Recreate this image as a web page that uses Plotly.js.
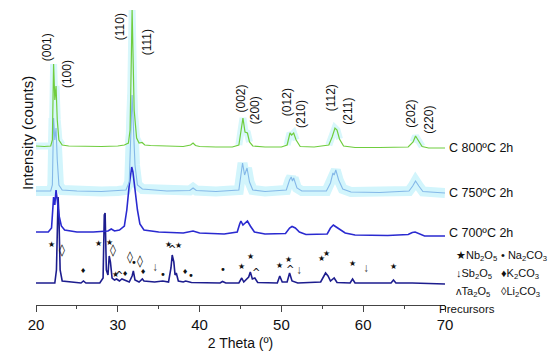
<!DOCTYPE html>
<html><head><meta charset="utf-8">
<script src="https://cdn.plot.ly/plotly-3.0.1.min.js"></script>
<style>html,body{margin:0;padding:0;background:#fff}#chart{width:550px;height:354px}</style>
</head><body><div id="chart"></div>
<script>
// ---- data (intensity above each pattern's own baseline, arbitrary units) ----
const sampleLabels = ["C 800\u00baC 2h", "C 750\u00baC 2h", "C 700\u00baC 2h", "Precursors"];

const x800 = [20,21,21.8,22.0,22.15,22.3,22.45,22.6,22.8,23.2,24,26,28,30,30.8,31.3,31.5,31.65,31.75,31.85,32.0,32.3,32.6,32.97,33.3,34,36,38,38.9,39.2,39.5,40,42,44,44.8,45.1,45.3,45.55,45.85,46.1,46.5,48,50,50.7,51.05,51.25,51.5,51.8,52.3,54,55.8,56.2,56.55,56.8,57.1,57.6,59,62,65.5,66.1,66.4,66.7,67.2,68,70];
const y800 = [2,1.5,2,8,84,48,62,28,8,3,2,1.5,1.5,2,3,5,18,88,138,98,38,10,5,5.5,3,2.5,2,1.5,3,5,2.5,1.5,1,1,3,18,30,16,15,6,2,1,1,3,15,13,15,8,1.5,1,3,11,20,18,9,2,0.5,0.5,1,6,12,8,1.5,0,0];

const x750 = [20,21.8,22.0,22.15,22.3,22.45,22.6,22.8,23.2,25,28,30,31.0,31.4,31.6,31.75,31.9,32.1,32.4,33,36,38.8,39.2,39.6,42,44.8,45.05,45.25,45.5,45.8,46.1,46.5,48,50.6,51.0,51.2,51.35,51.5,51.9,52.5,55.5,56.0,56.3,56.45,56.65,57,57.5,58.5,62,65.6,66.05,66.4,66.8,67.3,70];
const y750 = [2,2,8,75,53,65,33,8,3,2,1.5,2,3,11,63,98,68,28,8,4,2,2.5,5,2.5,1.5,3,18,30,18,25,11,3,1.5,3,13,16,12,15,5,2,2,10,20,18,23,13,4,1,0.5,2,7,12,7,1.5,0];

const x700 = [20,21.5,21.9,22.05,22.15,22.3,22.45,22.6,22.8,23.1,23.5,25,27,28.8,29.2,29.6,30.2,30.8,31.1,31.4,31.6,31.7,31.85,32.1,32.4,32.7,33.2,35,38,39.2,40,43,44.6,44.9,45.05,45.3,45.6,45.85,46.2,46.7,48,50.5,51.0,51.3,51.7,52.2,53,55.6,56.0,56.35,56.7,57.2,57.8,59,63,65.5,66.0,66.35,66.9,67.5,70];
const y700 = [4,4,8,36,39,31,46,36,21,10,6,4,4,5,7,5,6,10,26,51,66,69,64,46,26,12,6,4,3,5,3,2,4,12,15,11,13,15,10,4,2,2.5,8,9.5,8,4,1.5,2,8,11,9,6,3,1,0.5,1.5,3.5,4,2,0,0];

const xPre = [20,22.3,22.5,22.6,22.7,22.8,22.95,23.2,25.5,25.8,26.1,27.8,28.2,28.35,28.45,28.6,28.8,28.95,29.1,29.3,29.6,29.85,30.2,30.5,31.0,31.4,31.75,31.9,32.1,32.6,33.0,33.2,34.5,35.5,36.2,36.5,36.65,36.85,37.0,37.15,37.4,38.0,38.3,39,42.5,42.8,43.2,44.8,45.15,45.4,46.0,46.2,46.45,46.75,47.1,49.5,49.8,50.1,50.7,51.0,51.3,52,54.8,55.2,55.4,55.7,56.0,56.45,56.8,58.4,58.7,59.0,63.4,63.7,64.0,66,70];
const yPre = [1,1,14,74,87,69,14,3,1,3,1,1,6,69,71,14,9,28,22,6,4,5,3,5,3,2,8,13,4,2,5,3,2,3,2,16,29,22,9,11,3,2,3,1.5,1,2.5,1,1,6,2,7,12,5,6,1.5,1,8,2,2,11,3,1,2,8,11,8,3,6,1.5,1,5,1,1,4,1,1,0];

const millerLabels = ["(001)","(100)","(110)","(111)","(002)","(200)","(012)","(210)","(112)","(211)","(202)","(220)"];
const millerTheta  = [21.38,23.8,30.3,33.6,45.0,46.8,50.7,52.4,56.1,58.1,65.8,68.0];
const millerLevel  = [258,231,278,263,206,195,203,191,207,194,191,185];

const phaseSymbols = ["\u2605","\u25CA","\u2666","\u2605","\u2605","\u25CA","\u2605","^","\u2666","\u25CA","\u2022","\u25CA","\u2666","\u2193","\u2022","\u2605","^","\u2605","\u2666","\u2022","\u2022","\u2605","\u2605","^","\u2605","\u2605","^","\u2193","\u2605","\u2605","\u2605","\u2193","\u2605"];
const phaseTheta   = [21.95,23.2,25.75,27.66,29.0,29.4,29.7,30.2,30.9,31.45,32.0,32.77,33.1,34.55,35.5,36.15,36.65,37.45,38.2,38.9,42.85,45.15,46.2,46.85,49.8,50.9,51.1,52.1,54.9,55.5,58.75,60.3,63.65];
const phaseLevel   = [61,55,34,62,63,55,31,30,31,48,43,44,33,38,31,61,56,60,33,30,36,39,49,33,40,46,36,35,47,52,42,37,39];

const xTicks = [20,30,40,50,60,70];

// ---- styling / layout ----
const offsets = [157,112,69,21];
const colors = ["#6fcd3e","#84b8e8","#2a2ad0","#1d1d8e"];
const shift = (arr, o) => arr.map(v => v + o);
const FONT = "Liberation Sans, Arial, sans-serif";

const band750 = {x:x750, y:shift(y750,offsets[1]), mode:"lines", line:{color:"#d2f5fc", width:10}, hoverinfo:"skip"};
const bandRanges = [[20,23.4],[31.0,32.8],[44.8,46.3],[50.6,52.0],[55.8,57.4],[65.8,67.2]];
const band800 = {x:x800, y:y800.map((v,i)=>bandRanges.some(r=>x800[i]>=r[0]&&x800[i]<=r[1]) ? v+offsets[0] : null),
  mode:"lines", connectgaps:false, line:{color:"#d8f7fb", width:7}, hoverinfo:"skip"};

const traces = [
  band750, band800,
  {x:xPre, y:shift(yPre,offsets[3]), mode:"lines", line:{color:colors[3], width:1.6}, name:sampleLabels[3]},
  {x:x700, y:shift(y700,offsets[2]), mode:"lines", line:{color:colors[2], width:1.6}, name:sampleLabels[2]},
  {x:x750, y:shift(y750,offsets[1]), mode:"lines", line:{color:colors[1], width:1.1}, name:sampleLabels[1]},
  {x:x800, y:shift(y800,offsets[0]), mode:"lines", line:{color:colors[0], width:1.2}, name:sampleLabels[0]}
];

const ann = [];
[0,1,2].forEach(i => ann.push({xref:"paper", x:1, xanchor:"left", xshift:2, yref:"y", y:offsets[i]+ (i===2?3:0),
  text:sampleLabels[i], showarrow:false, font:{family:FONT, size:12.5, color:"#111"}}));
millerLabels.forEach((t,i) => ann.push({x:millerTheta[i], y:millerLevel[i], text:t, textangle:-90, showarrow:false,
  font:{family:FONT, size:12, color:"#111"}}));
const symSize = {"\u2605":8, "\u25CA":12, "\u2666":7, "\u2022":10, "^":10, "\u2193":12};
phaseSymbols.forEach((s,i) => ann.push({x:phaseTheta[i], y:phaseLevel[i], text:s, showarrow:false,
  font:{family:s==="\u2193"?FONT:"DejaVu Sans, sans-serif", size:symSize[s], color:s==="\u2193"?"#444":"#111"}}));
ann.push({xref:"paper", yref:"paper", x:-0.0465, y:0.575, text:"Intensity (counts)", textangle:-90, showarrow:false,
  font:{family:FONT, size:15, color:"#111"}});
const px = p => (p-36)/409, py = p => (305-p)/300;
const legRows = [
  ["\u2605Nb<sub>2</sub>O<sub>5</sub>", "\u2022 Na<sub>2</sub>CO<sub>3</sub>", 265],
  ["\u2193Sb<sub>2</sub>O<sub>5</sub>", "\u2666K<sub>2</sub>CO<sub>3</sub>", 283],
  ["\u028CTa<sub>2</sub>O<sub>5</sub>", "\u25CALi<sub>2</sub>CO<sub>3</sub>", 301]
];
legRows.forEach(r => {
  ann.push({xref:"paper", yref:"paper", x:px(454), y:py(r[2]), xanchor:"left", text:r[0], showarrow:false, font:{family:FONT, size:11, color:"#111"}});
  ann.push({xref:"paper", yref:"paper", x:px(499), y:py(r[2]), xanchor:"left", text:r[1], showarrow:false, font:{family:FONT, size:11, color:"#111"}});
});
ann.push({xref:"paper", yref:"paper", x:px(497), y:py(317), text:sampleLabels[3], showarrow:false, font:{family:FONT, size:11.5, color:"#111"}});

const layout = {
  width:550, height:354, margin:{l:36, r:105, t:5, b:49, autoexpand:false}, showlegend:false,
  paper_bgcolor:"#fff", plot_bgcolor:"#fff",
  xaxis:{range:[20,70], autorange:false, tickvals:xTicks, ticktext:xTicks.map(String), showline:true, linecolor:"#444", linewidth:1,
    ticks:"outside", ticklen:6, tickcolor:"#444", showgrid:false, zeroline:false, automargin:false,
    minor:{dtick:5, ticks:"outside", ticklen:3, tickcolor:"#444", showgrid:false},
    tickfont:{family:FONT, size:15, color:"#111"},
    title:{text:"2 Theta (\u00ba)", font:{family:FONT, size:14, color:"#111"}, standoff:6}},
  yaxis:{range:[0,300], autorange:false, showticklabels:false, showline:false, showgrid:false, zeroline:false, ticks:"", automargin:false},
  annotations:ann
};
Plotly.newPlot("chart", traces, layout, {staticPlot:true, displayModeBar:false});
</script></body></html>
